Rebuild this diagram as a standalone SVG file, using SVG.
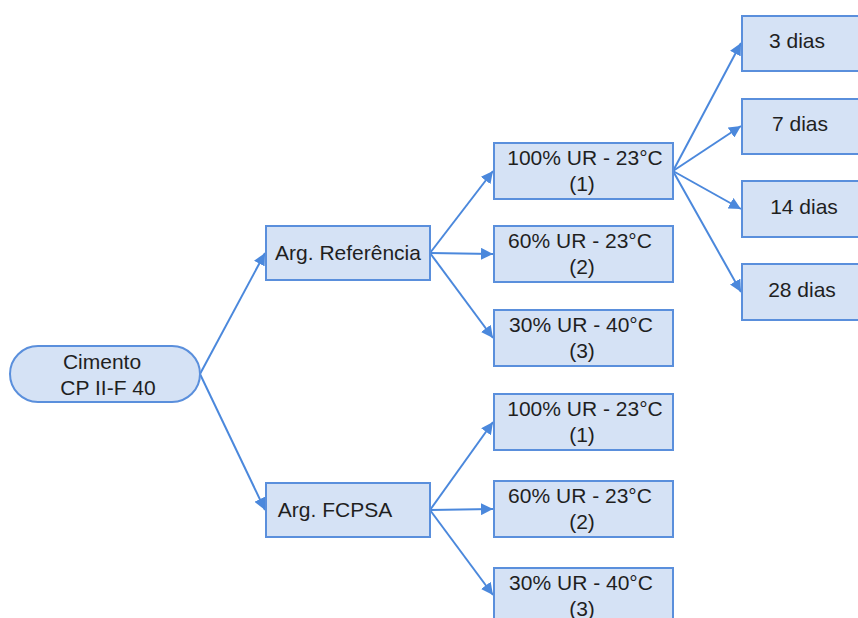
<svg xmlns="http://www.w3.org/2000/svg" width="858" height="618" viewBox="0 0 858 618">
  <style>
    .box { fill: #d5e2f5; stroke: #5a8fdc; stroke-width: 2; }
    .lbl { font-family: "Liberation Sans", Arial, sans-serif; font-size: 21px; fill: #1f1f1f; text-anchor: middle; }
    .link { stroke: #4b88dc; stroke-width: 2; fill: none; marker-end: url(#arr); }
  </style>
  <defs>
    <marker id="arr" viewBox="0 0 10 10" refX="10" refY="5" markerWidth="6" markerHeight="6" markerUnits="strokeWidth" orient="auto">
      <path d="M0,0 L10,5 L0,10 z" fill="#4b88dc"/>
    </marker>
  </defs>
  <rect width="858" height="618" fill="#ffffff"/>

  <g id="connectors">
    <line class="link" x1="200" y1="374" x2="265" y2="253"/>
    <line class="link" x1="200" y1="374" x2="265" y2="510"/>
    <line class="link" x1="430" y1="253" x2="493" y2="171"/>
    <line class="link" x1="430" y1="253" x2="493" y2="254"/>
    <line class="link" x1="430" y1="253" x2="493" y2="338"/>
    <line class="link" x1="430" y1="510" x2="493" y2="422"/>
    <line class="link" x1="430" y1="510" x2="493" y2="509"/>
    <line class="link" x1="430" y1="510" x2="493" y2="595"/>
    <line class="link" x1="673" y1="171" x2="741" y2="43"/>
    <line class="link" x1="673" y1="171" x2="741" y2="126"/>
    <line class="link" x1="673" y1="171" x2="741" y2="209"/>
    <line class="link" x1="673" y1="171" x2="741" y2="292"/>
  </g>

  <g id="cimento">
    <rect class="box" x="10" y="346" width="190" height="56" rx="28" ry="28"/>
    <text class="lbl" x="102" y="369">Cimento</text>
    <text class="lbl" x="108" y="395">CP II-F 40</text>
  </g>

  <g id="arg-referencia">
    <rect class="box" x="266" y="226" width="164" height="54"/>
    <text class="lbl" x="348" y="260">Arg. Referência</text>
  </g>
  <g id="arg-fcpsa">
    <rect class="box" x="266" y="483" width="164" height="54"/>
    <text class="lbl" x="335" y="517">Arg. FCPSA</text>
  </g>

  <g id="ref-100">
    <rect class="box" x="494" y="143" width="179" height="56"/>
    <text class="lbl" x="585" y="165">100% UR - 23°C</text>
    <text class="lbl" x="582" y="191">(1)</text>
  </g>
  <g id="ref-60">
    <rect class="box" x="494" y="226" width="179" height="56"/>
    <text class="lbl" x="580" y="248">60% UR - 23°C</text>
    <text class="lbl" x="582" y="274">(2)</text>
  </g>
  <g id="ref-30">
    <rect class="box" x="494" y="310" width="179" height="56"/>
    <text class="lbl" x="581" y="332">30% UR - 40°C</text>
    <text class="lbl" x="582" y="358">(3)</text>
  </g>

  <g id="fcpsa-100">
    <rect class="box" x="494" y="394" width="179" height="56"/>
    <text class="lbl" x="585" y="416">100% UR - 23°C</text>
    <text class="lbl" x="582" y="442">(1)</text>
  </g>
  <g id="fcpsa-60">
    <rect class="box" x="494" y="481" width="179" height="56"/>
    <text class="lbl" x="580" y="503">60% UR - 23°C</text>
    <text class="lbl" x="582" y="529">(2)</text>
  </g>
  <g id="fcpsa-30">
    <rect class="box" x="494" y="568" width="179" height="56"/>
    <text class="lbl" x="581" y="590">30% UR - 40°C</text>
    <text class="lbl" x="582" y="616">(3)</text>
  </g>

  <g id="d3">
    <rect class="box" x="742" y="16" width="120" height="55"/>
    <text class="lbl" x="797" y="48">3 dias</text>
  </g>
  <g id="d7">
    <rect class="box" x="742" y="99" width="120" height="55"/>
    <text class="lbl" x="800" y="131">7 dias</text>
  </g>
  <g id="d14">
    <rect class="box" x="742" y="181" width="120" height="56"/>
    <text class="lbl" x="804" y="214">14 dias</text>
  </g>
  <g id="d28">
    <rect class="box" x="742" y="264" width="120" height="56"/>
    <text class="lbl" x="802" y="297">28 dias</text>
  </g>
</svg>
